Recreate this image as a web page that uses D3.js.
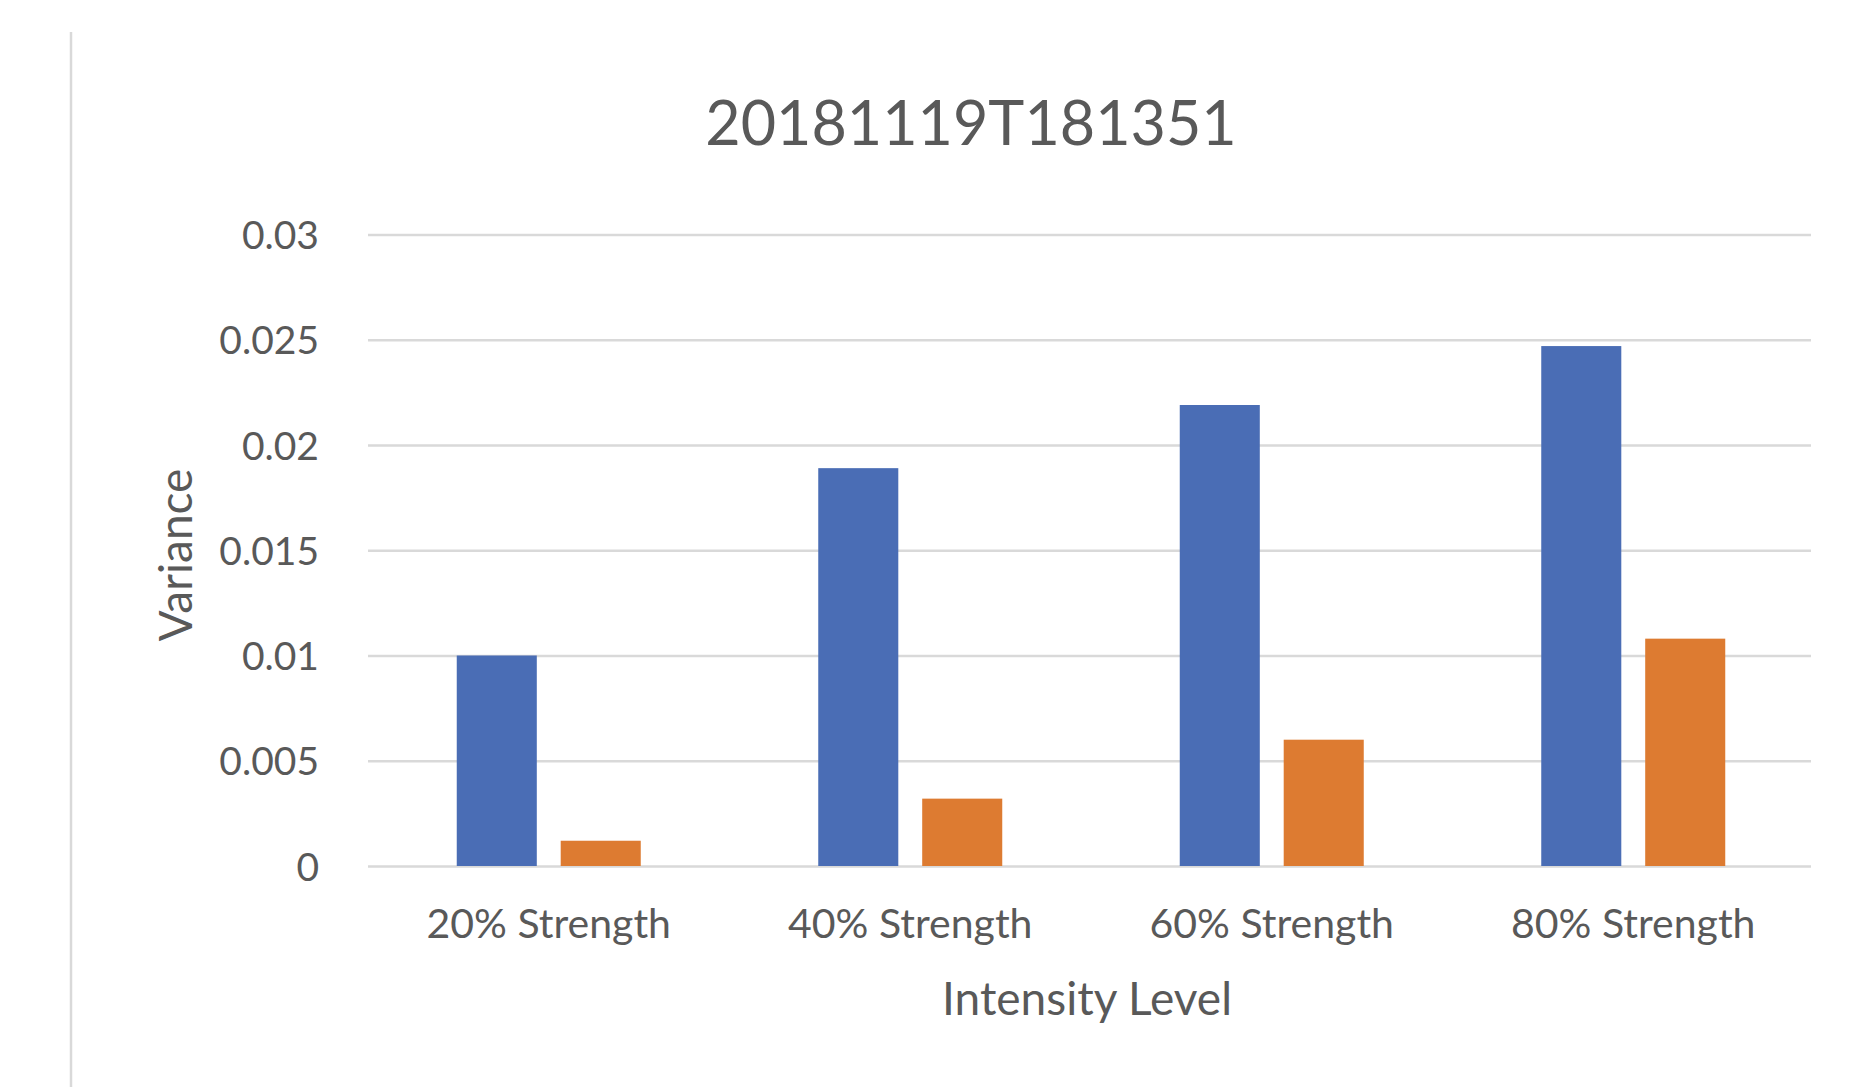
<!DOCTYPE html>
<html>
<head>
<meta charset="utf-8">
<script src="https://cdn.jsdelivr.net/npm/d3@7"></script>
<style>
  html, body { margin: 0; padding: 0; background: #ffffff; }
  svg { display: block; }
  text { font-family: Lato, "Open Sans", sans-serif; fill: #595959; }
</style>
</head>
<body>
<script>
const categories = ["20% Strength", "40% Strength", "60% Strength", "80% Strength"];
const seriesNames = ["Series1", "Series2"];
const series1 = [0.0100, 0.0189, 0.0219, 0.0247];
const series2 = [0.0012, 0.0032, 0.0060, 0.0108];
const yTicks = [0, 0.005, 0.01, 0.015, 0.02, 0.025, 0.03];
const yTickLabels = ["0", "0.005", "0.01", "0.015", "0.02", "0.025", "0.03"];
const colors = ["#4A6DB5", "#DD7B31"];
const title = "20181119T181351";
const xTitle = "Intensity Level";
const yTitle = "Variance";

const W = 1864, H = 1087;
const plot = { left: 368, right: 1814, top: 234.5, bottom: 866 };

const svg = d3.select("body").append("svg").attr("width", W).attr("height", H);
svg.append("rect").attr("width", W).attr("height", H).attr("fill", "#fff");

// left border of the chart area
svg.append("line").attr("x1", 71).attr("x2", 71).attr("y1", 32).attr("y2", H)
  .attr("stroke", "#d9d9d9").attr("stroke-width", 2.5);

const x0 = d3.scaleBand().domain(categories).range([plot.left, plot.right]).padding(0);
const pairW = 184;
const x1 = d3.scaleBand().domain(seriesNames)
  .range([(x0.bandwidth() - pairW) / 2, (x0.bandwidth() + pairW) / 2])
  .paddingInner(0.23).paddingOuter(0);
const y = d3.scaleLinear().domain([0, 0.03]).range([plot.bottom, plot.top]);

// gridlines via axis
const yAxis = d3.axisLeft(y).tickValues(yTicks)
  .tickSize(-(plot.right - plot.left - 3))
  .tickFormat((d, i) => yTickLabels[i]);
const gy = svg.append("g").attr("transform", `translate(${plot.left},0)`).call(yAxis);
gy.select(".domain").remove();
gy.selectAll(".tick line").attr("stroke", "#d9d9d9").attr("stroke-width", 2.5);
gy.selectAll(".tick text")
  .attr("x", -(plot.left - 319))
  .attr("dy", "0.36em")
  .style("font-size", "39px")
  .attr("fill", "#595959");

// bars
const data = categories.map((c, i) => ({ cat: c, vals: [series1[i], series2[i]] }));
const groups = svg.append("g").selectAll("g").data(data).join("g")
  .attr("transform", d => `translate(${x0(d.cat)},0)`);
groups.selectAll("rect")
  .data(d => d.vals.map((v, j) => ({ s: seriesNames[j], v, j })))
  .join("rect")
  .attr("x", d => x1(d.s))
  .attr("width", x1.bandwidth())
  .attr("y", d => y(d.v))
  .attr("height", d => y(0) - y(d.v))
  .attr("fill", d => colors[d.j]);

// x axis labels
const xAxis = d3.axisBottom(x0).tickSize(0).tickPadding(0);
const gx = svg.append("g").attr("transform", `translate(0,${plot.bottom})`).call(xAxis);
gx.select(".domain").remove();
gx.selectAll(".tick text")
  .attr("y", 72).attr("dy", 0)
  .style("font-size", "41px")
  .attr("fill", "#595959");

// titles
svg.append("text").attr("x", 971).attr("y", 145).attr("text-anchor", "middle")
  .style("font-size", "61px").text(title);
svg.append("text").attr("x", 1087).attr("y", 1015).attr("text-anchor", "middle")
  .style("font-size", "46px").text(xTitle);
svg.append("text").attr("transform", "translate(192,555) rotate(-90)")
  .attr("text-anchor", "middle").style("font-size", "46px").text(yTitle);
</script>
</body>
</html>
